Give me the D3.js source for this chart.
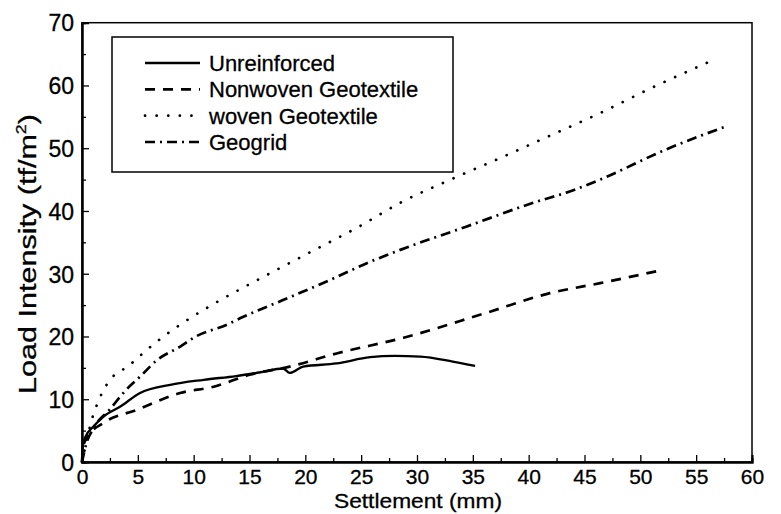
<!DOCTYPE html>
<html>
<head>
<meta charset="utf-8">
<script src="https://cdn.jsdelivr.net/npm/d3@7"></script>
<style>
  html, body { margin: 0; padding: 0; background: #fff; }
  svg { display: block; }
  text { font-family: "Liberation Sans", Arial, sans-serif; fill: #000; stroke: #000; stroke-width: 0.3px; }
</style>
</head>
<body>
<svg id="chart" width="781" height="514"></svg>
<script>
// ---- Data ----
const seriesNames = ["Unreinforced", "Nonwoven Geotextile", "woven Geotextile", "Geogrid"];

const unreinforcedX = [0, 0.1, 0.3, 1.0, 1.9, 3.4, 5.2, 7.9, 10.9, 13.8, 16.0, 18.0, 18.6, 19.8, 22.8, 25.8, 28.0, 30.3, 33.2, 35.2];
const unreinforcedY = [0, 2.8, 4.0, 5.6, 7.2, 8.8, 11.0, 12.3, 13.1, 13.7, 14.3, 14.9, 14.2, 15.2, 15.7, 16.7, 16.9, 16.8, 16.0, 15.3];

const nonwovenX = [0, 0.1, 0.5, 1.9, 4.9, 8.8, 11.8, 15.0, 18.6, 22.8, 28.8, 35.9, 41.9, 46.4, 52.0];
const nonwovenY = [0, 2.4, 4.0, 6.2, 8.3, 11.0, 12.0, 13.9, 15.2, 17.3, 19.8, 23.6, 26.9, 28.5, 30.6];

const wovenX = [0, 0.3, 0.7, 1.4, 2.2, 4.3, 6.5, 9.4, 12.4, 15.5, 20.3, 24.9, 28.5, 33.0, 37.4, 41.9, 46.4, 51.0, 56.2];
const wovenY = [0, 2.4, 5.6, 9.4, 12.3, 15.5, 18.9, 22.6, 25.8, 28.8, 33.3, 37.6, 41.3, 45.0, 48.4, 52.0, 55.6, 59.6, 63.8];

const geogridX = [0, 0.4, 1.0, 2.5, 3.9, 5.2, 6.7, 8.8, 10.1, 13.0, 14.4, 18.0, 22.2, 25.8, 28.5, 34.4, 40.4, 44.0, 46.4, 52.3, 57.7];
const geogridY = [0, 3.0, 5.3, 8.4, 11.4, 13.6, 16.2, 18.4, 19.9, 21.9, 23.1, 25.8, 29.0, 31.9, 33.8, 37.5, 41.3, 43.3, 45.0, 49.8, 53.5];

const xTicks = [0, 5, 10, 15, 20, 25, 30, 35, 40, 45, 50, 55, 60];
const yTicks = [0, 10, 20, 30, 40, 50, 60, 70];
const xMinorTicks = [2.5, 7.5, 12.5, 17.5, 22.5, 27.5, 32.5, 37.5, 42.5, 47.5, 52.5, 57.5];
const yMinorTicks = [5, 15, 25, 35, 45, 55, 65];

const xTitle = "Settlement (mm)";
const yTitle = "Load Intensity (tf/m";

// ---- Layout ----
const svg = d3.select("#chart");
const plot = { left: 82, right: 752, top: 22.7, bottom: 462 };

const x = d3.scaleLinear().domain([0, 60]).range([plot.left, plot.right]);
const y = d3.scaleLinear().domain([0, 70]).range([plot.bottom, plot.top]);

const styles = [
  { width: 2.3, dash: null },
  { width: 2.7, dash: "10,8" },
  { width: 2.7, dash: "0.1,11.5", cap: "round" },
  { width: 2.7, dash: "10,5,2,5" }
];

const seriesData = [
  d3.zip(unreinforcedX, unreinforcedY),
  d3.zip(nonwovenX, nonwovenY),
  d3.zip(wovenX, wovenY),
  d3.zip(geogridX, geogridY)
];

// ---- Frame ----
svg.append("rect")
  .attr("x", plot.left).attr("y", plot.top)
  .attr("width", plot.right - plot.left).attr("height", plot.bottom - plot.top)
  .attr("fill", "none").attr("stroke", "#000").attr("stroke-width", 1.5);

// ---- Axes (inward ticks) ----
const xAxis = svg.append("g").attr("transform", `translate(0,${plot.bottom})`)
  .call(d3.axisBottom(x).tickValues(xTicks).tickSize(-7).tickPadding(7).tickFormat(d3.format("d")));
svg.append("g").attr("transform", `translate(0,${plot.bottom})`)
  .call(d3.axisBottom(x).tickValues(xMinorTicks).tickSize(-4).tickFormat(""));
const yAxis = svg.append("g").attr("transform", `translate(${plot.left},0)`)
  .call(d3.axisLeft(y).tickValues(yTicks).tickSize(-7).tickPadding(8).tickFormat(d3.format("d")));
svg.append("g").attr("transform", `translate(${plot.left},0)`)
  .call(d3.axisLeft(y).tickValues(yMinorTicks).tickSize(-4).tickFormat(""));

svg.selectAll(".domain").attr("stroke", "#000").attr("stroke-width", 2);
svg.selectAll(".tick line").attr("stroke", "#000").attr("stroke-width", 1.3);
xAxis.selectAll("text").attr("font-size", 21).attr("fill", "#000");
yAxis.selectAll("text").attr("font-size", 23).attr("fill", "#000").attr("dy", "0.36em");

// ---- Axis titles ----
svg.append("text")
  .attr("x", 418).attr("y", 508)
  .attr("text-anchor", "middle").attr("font-size", 21)
  .attr("textLength", 168).attr("lengthAdjust", "spacingAndGlyphs")
  .text(xTitle);

const ytG = svg.append("g").attr("transform", "translate(36,254) rotate(-90)");
const yt = ytG.append("text")
  .attr("text-anchor", "middle").attr("font-size", 24);
yt.append("tspan").text(yTitle);
yt.append("tspan").attr("font-size", 14).attr("dy", -10).text("2");
yt.append("tspan").attr("dy", 10).text(")");
const yLen = yt.node().getBBox().width;
yt.attr("transform", `scale(${280 / yLen},1)`);

// ---- Lines ----
const line = d3.line().x(d => x(d[0])).y(d => y(d[1])).curve(d3.curveMonotoneX);
svg.append("g").selectAll("path").data(seriesData).join("path")
  .attr("d", line)
  .attr("fill", "none").attr("stroke", "#000")
  .attr("stroke-width", (d, i) => styles[i].width)
  .attr("stroke-dasharray", (d, i) => styles[i].dash)
  .attr("stroke-linecap", (d, i) => styles[i].cap || "butt");

// ---- Legend ----
const legend = svg.append("g");
legend.append("rect")
  .attr("x", 112).attr("y", 37).attr("width", 341).attr("height", 135)
  .attr("fill", "#fff").attr("stroke", "#000").attr("stroke-width", 1.5);
const rowY = d3.scaleLinear().domain([0, 3]).range([63, 142]);
seriesNames.forEach((name, i) => {
  legend.append("line")
    .attr("x1", 145).attr("x2", 200).attr("y1", rowY(i)).attr("y2", rowY(i))
    .attr("stroke", "#000").attr("stroke-width", styles[i].width)
    .attr("stroke-dasharray", styles[i].dash)
    .attr("stroke-linecap", styles[i].cap || "butt");
  legend.append("text")
    .attr("x", 209).attr("y", rowY(i)).attr("dy", "0.36em")
    .attr("font-size", 22).text(name);
});
</script>
</body>
</html>
